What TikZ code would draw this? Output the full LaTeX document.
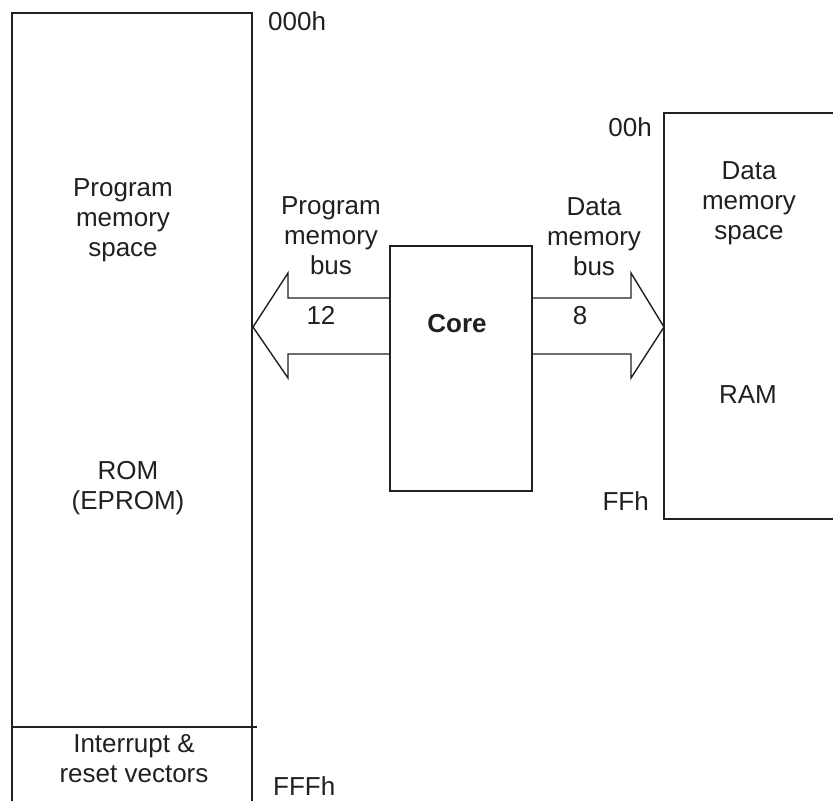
\documentclass[tikz,border=0pt]{standalone}
\usepackage{fontspec}
\setmainfont{Liberation Sans}
\definecolor{inkgray}{RGB}{35,31,32}

\begin{document}
\begin{tikzpicture}[x=1pt, y=-1pt,
    memline/.style={draw=inkgray, line width=1.4pt},
    busarrow/.style={draw=inkgray, line width=1.4pt, line join=miter},
    corebox/.style={draw=inkgray, line width=1.4pt, minimum width=142pt,
                    minimum height=245pt, inner sep=0pt},
    lbl/.style={align=center, text=inkgray, inner sep=0pt,
                font=\fontsize{26}{30}\selectfont},
    addr/.style={text=inkgray, inner sep=0pt, font=\fontsize{26}{30}\selectfont}
]
    \useasboundingbox (0,0) rectangle (833,801);

    % Program memory (ROM), open at the bottom
    \coordinate (romtl) at (12,13);
    \coordinate (romtr) at (252,13);
    \draw[memline] (12,801) -- (romtl) -- (romtr) -- (252,801);
    \draw[memline] (12,727) -- (257,727);
    \node[lbl] (progspace) at (123,220) {Program\\memory\\space};
    \node[lbl] (rom) at (128,488) {ROM\\(EPROM)};
    \node[lbl] (vectors) at (134,759) {Interrupt \&\\reset vectors};
    \node[addr, anchor=base west] (romfirst) at (268,30) {000h};
    \node[addr, anchor=base west] (romlast) at (273,795) {FFFh};

    % Data memory (RAM), open at the right
    \draw[memline] (833,113) -- (664,113) -- (664,519) -- (833,519);
    \node[lbl] (dataspace) at (749,203) {Data\\memory\\space};
    \node[lbl] (ram) at (748,395) {RAM};
    \node[addr, anchor=base east] (ramfirst) at (652,136) {00h};
    \node[addr, anchor=base east] (ramlast) at (649,510) {FFh};

    % Core
    \node[corebox] (core) at (461,368.5) {};
    \node[lbl, font=\fontsize{26}{30}\selectfont\bfseries, anchor=base]
        (corelbl) at (457,332) {Core};

    % Buses
    \coordinate (romport) at (253,327);
    \coordinate (ramport) at (664,327);
    \draw[busarrow] (core.west |- 0,298) -- (288,298) -- (288,273) -- (romport)
        -- (288,378) -- (288,354) -- (core.west |- 0,354);
    \draw[busarrow] (core.east |- 0,298) -- (631,298) -- (631,273) -- (ramport)
        -- (631,378) -- (631,354) -- (core.east |- 0,354);
    \node[lbl] (progbus) at (331,236) {Program\\memory\\bus};
    \node[lbl] (databus) at (594,237) {Data\\memory\\bus};
    \node[addr, anchor=base] (progwidth) at (321,324) {12};
    \node[addr, anchor=base] (datawidth) at (580,324) {8};
\end{tikzpicture}
\end{document}
